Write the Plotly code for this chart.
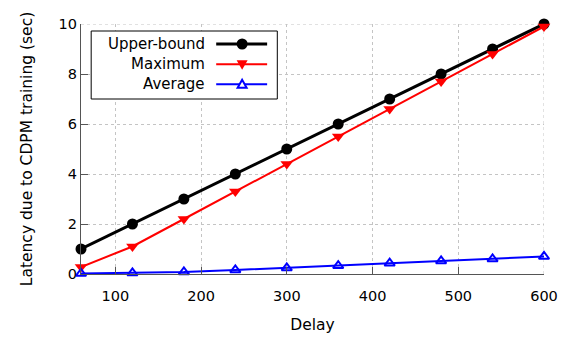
import plotly.graph_objects as go

# Measurements: delay vs. latency caused by CDPM training
delay = [60, 120, 180, 240, 300, 360, 420, 480, 540, 600]
upper_bound = [1, 2, 3, 4, 5, 6, 7, 8, 9, 10]
maximum = [0.28, 1.1, 2.2, 3.3, 4.4, 5.5, 6.6, 7.7, 8.8, 9.9]
average = [0.02, 0.04, 0.08, 0.16, 0.24, 0.33, 0.43, 0.52, 0.6, 0.7]

series_names = ["Upper-bound", "Maximum", "Average"]
x_ticks = [100, 200, 300, 400, 500, 600]
y_ticks = [0, 2, 4, 6, 8, 10]

FONT = "DejaVu Sans"
AXIS = "#555555"
GRID = "#c4c4c4"
colors = ["black", "#ff0000", "#0000ff"]
line_widths = [3, 2, 2]
styles = [
    dict(line=dict(color=colors[0], width=line_widths[0]),
         marker=dict(symbol="circle", size=11, color=colors[0])),
    dict(line=dict(color=colors[1], width=line_widths[1]),
         marker=dict(symbol="triangle-down", size=11, color=colors[1])),
    dict(line=dict(color=colors[2], width=line_widths[2]),
         marker=dict(symbol="triangle-up-open", size=9, color=colors[2],
                     line=dict(width=2, color=colors[2]))),
]

fig = go.Figure()
for name, ys, st in zip(series_names, [upper_bound, maximum, average], styles):
    fig.add_trace(go.Scatter(x=delay, y=ys, name=name, mode="lines+markers",
                             line=st["line"], marker=st["marker"],
                             showlegend=False, cliponaxis=False))

# Gnuplot-style key: right-aligned labels with the sample on the right,
# placed in paper fractions of the plot area.
key_box = dict(x0=0.022, x1=0.424, y0=0.70, y1=0.972)
key_rows = [0.92, 0.839, 0.759]
key_text_x = 0.273
key_line = (0.292, 0.402)
key_mark_x = 0.348

# marker glyphs in pixels around the sample centre (y up)
glyphs = [
    dict(type="circle", x0=-5.5, x1=5.5, y0=-5.5, y1=5.5,
         fillcolor=colors[0], line=dict(width=0)),
    dict(type="path", path="M -5.5 4 L 5.5 4 L 0 -5.5 Z",
         fillcolor=colors[1], line=dict(width=0)),
    dict(type="path", path="M -4.5 -3.5 L 4.5 -3.5 L 0 4.5 Z",
         fillcolor="white", line=dict(width=2, color=colors[2])),
]

fig.add_shape(type="rect", xref="paper", yref="paper", **key_box,
              line=dict(color="black", width=1), fillcolor="white", layer="above")
for name, yk, col, lw, g in zip(series_names, key_rows, colors, line_widths, glyphs):
    fig.add_shape(type="line", xref="paper", yref="paper",
                  x0=key_line[0], x1=key_line[1], y0=yk, y1=yk,
                  line=dict(color=col, width=lw), layer="above")
    fig.add_shape(xref="paper", yref="paper", xsizemode="pixel", ysizemode="pixel",
                  xanchor=key_mark_x, yanchor=yk, layer="above", **g)
    fig.add_annotation(x=key_text_x, y=yk, xref="paper", yref="paper", text=name,
                       showarrow=False, xanchor="right", yanchor="middle",
                       font=dict(family=FONT, size=15, color="black"))

grid = dict(showgrid=True, gridcolor=GRID, griddash="dot", gridwidth=1)
fig.update_layout(
    width=574, height=338,
    margin=dict(l=81, r=30, t=24, b=64),
    paper_bgcolor="white", plot_bgcolor="white",
    font=dict(family=FONT, size=14, color="black"),
    xaxis=dict(range=[60, 600], tickvals=x_ticks, ticks="inside", ticklen=7,
               tickcolor=AXIS, showline=True, linecolor=AXIS, linewidth=1.2,
               zeroline=False, tickfont=dict(size=14.5), ticklabelstandoff=8,
               automargin=False, **grid,
               title=dict(text="Delay", font=dict(size=15.5), standoff=16)),
    yaxis=dict(range=[0, 10], tickvals=y_ticks, ticks="inside", ticklen=7,
               tickcolor=AXIS, showline=True, linecolor=AXIS, linewidth=1.2,
               zeroline=False, tickfont=dict(size=14.5), automargin=False, **grid,
               title=dict(text="Latency due to CDPM training (sec)",
                          font=dict(size=15.5), standoff=22)),
)

# Dotted grid lines also along the top and right edges
fig.add_shape(type="line", xref="paper", yref="y", x0=0, x1=1, y0=10, y1=10,
              line=dict(color=GRID, width=1, dash="dot"), layer="below")
fig.add_shape(type="line", xref="x", yref="paper", x0=600, x1=600, y0=0, y1=1,
              line=dict(color=GRID, width=1, dash="dot"), layer="below")

fig.write_html("out.html")
